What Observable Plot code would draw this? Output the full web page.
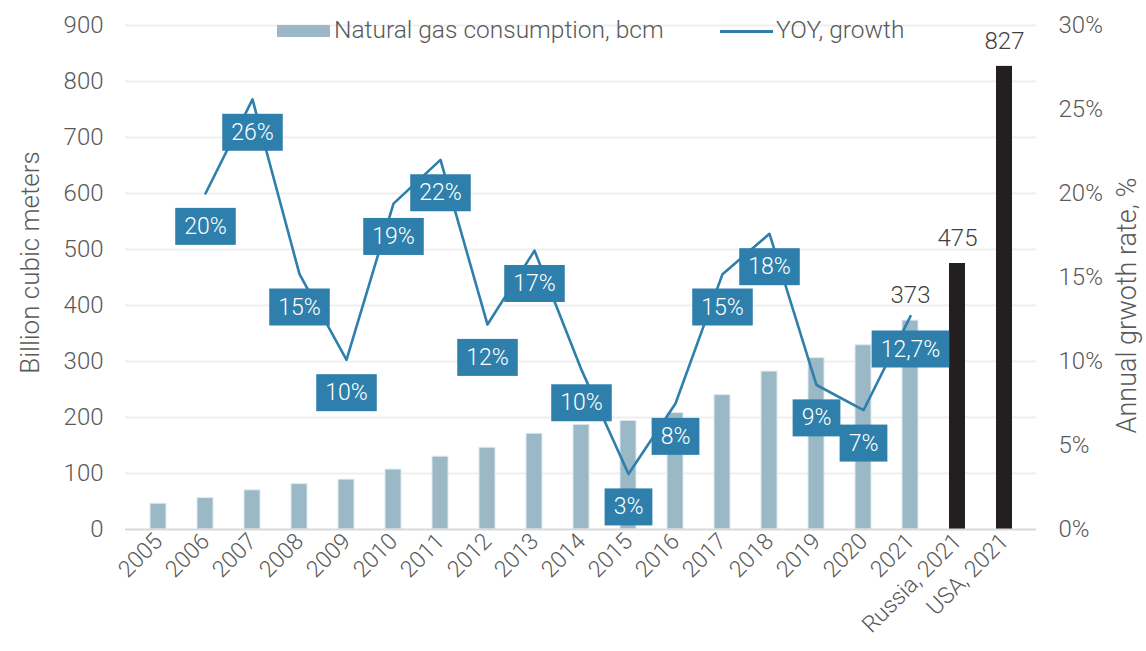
<!DOCTYPE html>
<html><head><meta charset="utf-8">
<script src="https://cdn.jsdelivr.net/npm/d3@7"></script>
<script src="https://cdn.jsdelivr.net/npm/@observablehq/plot@0.6"></script>
<style>
body{margin:0;background:#fff;font-family:Roboto,sans-serif;}
#wrap{position:relative;width:1146px;height:651px;overflow:hidden;}
.lg{position:absolute;}
.lgt{position:absolute;font-size:24.5px;line-height:24px;color:#595959;white-space:nowrap;font-family:Roboto,sans-serif;font-weight:300;}
</style></head><body>
<div id="wrap">
<div id="chart"></div>
<div class="lg" style="left:277px;top:25px;width:53px;height:12px;background:#9ab8c6"></div>
<div class="lgt" style="left:334px;top:18px">Natural gas consumption, bcm</div>
<div class="lg" style="left:720px;top:30px;width:53px;height:3px;background:#2e7fab"></div>
<div class="lgt" style="left:776px;top:18px">YOY, growth</div>
</div>
<script>
const categories = ["2005","2006","2007","2008","2009","2010","2011","2012","2013","2014","2015","2016","2017","2018","2019","2020","2021","Russia, 2021","USA, 2021"];
const consumption = [46, 56, 70, 81, 89, 107, 130, 146, 171, 187, 194, 208, 240, 282, 306, 329, 373, 475, 827];
const yoyYears = ["2006","2007","2008","2009","2010","2011","2012","2013","2014","2015","2016","2017","2018","2019","2020","2021"];
const yoyValues = [20.0, 25.6, 15.2, 10.1, 19.4, 22.0, 12.2, 16.6, 9.5, 3.3, 7.5, 15.2, 17.6, 8.6, 7.1, 12.7];
const yoyLabels = ["20%","26%","15%","10%","19%","22%","12%","17%","10%","3%","8%","15%","18%","9%","7%","12,7%"];
const valueLabelCats = ["2021","Russia, 2021","USA, 2021"];
const yTicks = [0,100,200,300,400,500,600,700,800,900];
const pctTicks = [0,5,10,15,20,25,30];

const bars = categories.map((c,i)=>({cat:c, v:consumption[i]}));
const chinaBars = bars.filter(d=>!d.cat.includes(","));
const countryBars = bars.filter(d=>d.cat.includes(","));
const pctToY = p => p*30;
const line = yoyYears.map((c,i)=>({cat:c, y:pctToY(yoyValues[i]), label:yoyLabels[i]}));
const valueLabels = bars.filter(d=>valueLabelCats.includes(d.cat));

const plot = Plot.plot({
  width:1146, height:651, marginLeft:125, marginRight:110, marginTop:25, marginBottom:122,
  style:{fontFamily:"Roboto, sans-serif", fontWeight:300, color:"#595959", background:"white", overflow:"visible"},
  x:{domain:categories, paddingInner:0.67, paddingOuter:0.335, label:null},
  y:{domain:[0,900], label:null},
  marks:[
    Plot.gridY(yTicks.slice(1), {stroke:"#efefef", strokeOpacity:1, strokeWidth:2}),
    Plot.barY(chinaBars, {x:"cat", y:"v", fill:"#9ab8c6", stroke:"#dfe9ee", strokeWidth:1}),
    Plot.barY(countryBars, {x:"cat", y:"v", fill:"#231f20"}),
    Plot.ruleY([0], {stroke:"#d9d9d9", strokeWidth:2}),
    Plot.axisY(yTicks, {anchor:"left", tickSize:0, tickPadding:22, fontSize:24, label:null, fill:"#595959"}),
    Plot.axisY(pctTicks.map(pctToY), {anchor:"right", tickSize:0, tickPadding:22, tickFormat:d=>(d/30)+"%", fontSize:24, label:null, fill:"#595959"}),
    Plot.axisX({tickSize:0, tickRotate:-45, tickPadding:8, fontSize:23, label:null, fill:"#595959"}),
    Plot.line(line, {x:"cat", y:"y", stroke:"#2e7fab", strokeWidth:2.6}),
    Plot.text(line, {x:"cat", y:"y", text:"label", dy:33, fill:"white", fontSize:23}),
    Plot.text(valueLabels, {x:"cat", y:"v", text:d=>String(d.v), dy:-25, fill:"#404040", fontSize:24}),
    Plot.text(["Billion cubic meters"], {frameAnchor:"left", textAnchor:"middle", rotate:-90, dx:-95, dy:-15, fontSize:26, fill:"#595959"}),
    Plot.text(["Annual grwoth rate, %"], {frameAnchor:"right", textAnchor:"middle", rotate:-90, dx:91, dy:28, fontSize:27, fill:"#595959"})
  ]
});
document.getElementById("chart").append(plot);
const svgns = "http://www.w3.org/2000/svg";
const labelGroup = Array.from(plot.querySelectorAll("g")).find(g =>
  g.children.length === yoyLabels.length &&
  Array.from(g.children).every((t,i)=>t.tagName === "text" && t.textContent === yoyLabels[i]));
if (labelGroup) {
  Array.from(labelGroup.querySelectorAll("text")).forEach(t=>{
    const b = t.getBBox();
    const cy = b.y + b.height/2;
    const r = document.createElementNS(svgns, "rect");
    r.setAttribute("x", b.x - 9);
    r.setAttribute("y", cy - 18.5);
    r.setAttribute("width", b.width + 18);
    r.setAttribute("height", 37);
    r.setAttribute("fill", "#2e7fab");
    const tr = t.getAttribute("transform");
    if (tr) r.setAttribute("transform", tr);
    labelGroup.insertBefore(r, t);
  });
}
</script>
</body></html>
